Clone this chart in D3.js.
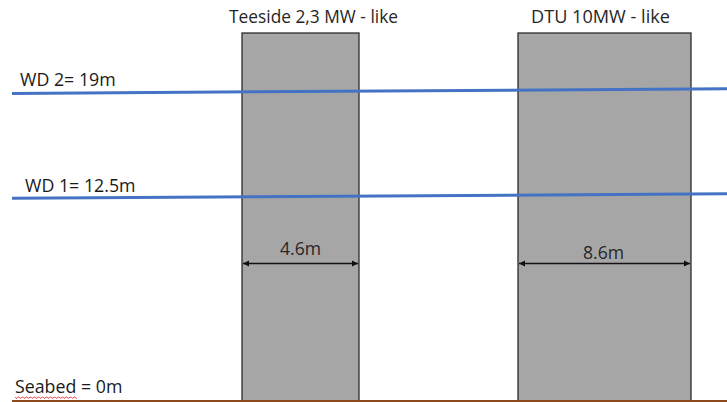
<!DOCTYPE html>
<html>
<head>
<meta charset="utf-8">
<script src="https://cdn.jsdelivr.net/npm/d3@7"></script>
<style>
  html, body { margin: 0; padding: 0; background: #fff; }
  svg { display: block; font-family: "Open Sans", "Noto Sans", sans-serif; }
</style>
</head>
<body>
<svg id="chart" width="727" height="402"></svg>
<script>
// ---- data ----
const turbines = ["Teeside 2,3 MW - like", "DTU 10MW - like"];
const diameters = [4.6, 8.6];              // monopile diameter (m)
const diameterLabels = ["4.6m", "8.6m"];
const barLeft = [242, 518];                // drawing units along x
const barRight = [359, 691];
const pileTop = 22.75;                     // m above seabed (top of drawn piles)
const waterDepths = [19, 12.5];            // m
const waterLabels = ["WD 2= 19m", "WD 1= 12.5m"];
const waterLeftLevel = [19, 12.5];         // level at left end of line (m)
const waterRightLevel = [19.3, 12.78];     // level at right end of line (m)
const seabedLabel = "Seabed = 0m";

// ---- scales ----
const W = 727, H = 402;
const svg = d3.select("#chart");
const x = d3.scaleLinear().domain([0, 727]).range([0, W]);
const y = d3.scaleLinear().domain([0, 19]).range([400, 93.5]);

// piles
svg.selectAll("rect.pile").data(turbines).enter().append("rect")
  .attr("x", (d, i) => x(barLeft[i]))
  .attr("y", y(pileTop))
  .attr("width", (d, i) => x(barRight[i]) - x(barLeft[i]))
  .attr("height", y(0) - y(pileTop) + 2)
  .attr("fill", "#a6a6a6")
  .attr("stroke", "#2b2b2b")
  .attr("stroke-width", 1.3);

// titles
const titleWidth = [169, 139];
const titleShift = [13, -4];
svg.selectAll("text.title").data(turbines).enter().append("text")
  .attr("x", (d, i) => x((barLeft[i] + barRight[i]) / 2) + titleShift[i])
  .attr("y", 23)
  .attr("text-anchor", "middle")
  .attr("font-size", 17.6)
  .attr("textLength", (d, i) => titleWidth[i])
  .attr("lengthAdjust", "spacingAndGlyphs")
  .attr("fill", "#262626")
  .text(d => d);

// seabed
svg.append("line")
  .attr("x1", x(12)).attr("x2", x(727))
  .attr("y1", y(0) + 1).attr("y2", y(0) + 1)
  .attr("stroke", "#8c4a1c").attr("stroke-width", 1.8);

// water lines
svg.selectAll("line.wd").data(waterDepths).enter().append("line")
  .attr("x1", x(12)).attr("x2", x(727))
  .attr("y1", (d, i) => y(waterLeftLevel[i]))
  .attr("y2", (d, i) => y(waterRightLevel[i]))
  .attr("stroke", "#4472c4").attr("stroke-width", 3);

// water labels
const labelX = [20, 25];
const labelOff = [7.5, 6.5];
svg.selectAll("text.wd").data(waterLabels).enter().append("text")
  .attr("x", (d, i) => x(labelX[i]))
  .attr("y", (d, i) => y(waterLeftLevel[i]) - labelOff[i])
  .attr("font-size", 17.8)
  .attr("fill", "#1a1a1a")
  .text(d => d);

// seabed label
svg.append("text")
  .attr("x", x(15)).attr("y", y(0) - 7)
  .attr("font-size", 17.8).attr("fill", "#1a1a1a")
  .text(seabedLabel);

// spell-check squiggle under "Seabed"
(function(){
  const tmp = svg.append("text").attr("font-size", 17.8).attr("x", -999).attr("y", -999).text("Seabed");
  const w = tmp.node().getComputedTextLength();
  tmp.remove();
  const x0 = x(15), yy = y(0) - 3;
  let dstr = `M${x0},${yy}`;
  for (let k = 0; k * 2 < w; k++) {
    dstr += ` l1,${k % 2 ? -1.2 : 1.2} l1,0`;
  }
  svg.append("path").attr("d", dstr).attr("fill", "none")
    .attr("stroke", "#e03030").attr("stroke-width", 0.8);
})();

// dimension arrows
const defs = svg.append("defs");
defs.append("marker").attr("id", "arr").attr("viewBox", "0 0 10 10")
  .attr("refX", 10).attr("refY", 5).attr("markerWidth", 6).attr("markerHeight", 7)
  .attr("markerUnits", "userSpaceOnUse").attr("orient", "auto-start-reverse")
  .append("path").attr("d", "M0,0 L10,5 L0,10 z").attr("fill", "#111");

const arrowY = 263.5;
svg.selectAll("line.dim").data(diameters).enter().append("line")
  .attr("x1", (d, i) => x(barLeft[i]) + 1)
  .attr("x2", (d, i) => x(barRight[i]) - 1)
  .attr("y1", arrowY).attr("y2", arrowY)
  .attr("stroke", "#111").attr("stroke-width", 1.3)
  .attr("marker-start", "url(#arr)").attr("marker-end", "url(#arr)");

const dimBase = [255, 258.5];
const dimShift = [0, -1];
svg.selectAll("text.dim").data(diameterLabels).enter().append("text")
  .attr("x", (d, i) => x((barLeft[i] + barRight[i]) / 2) + dimShift[i])
  .attr("y", (d, i) => dimBase[i])
  .attr("text-anchor", "middle")
  .attr("font-size", 17.6)
  .attr("fill", "#262626")
  .text(d => d);
</script>
</body>
</html>
